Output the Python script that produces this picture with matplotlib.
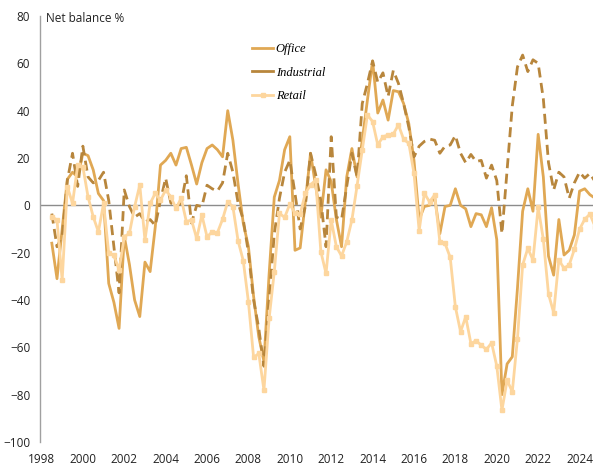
import numpy as np
import matplotlib
matplotlib.use("Agg")
import matplotlib.pyplot as plt

# quarterly net balances, 1998 Q3 onwards
start_year = 1998.5
office = [-16, -31, -10, 11, 14, 12, 22, 21, 15, 5,
          2, -33, -41, -52, -13, -25, -40, -47, -24, -28,
          -9, 17, 19, 22, 17, 24, 24.5, 17, 9, 18,
          24, 25.5, 23.5, 20.5, 40, 27.5, 9, -7.5, -17.5, -38.5,
          -55.5, -66, -29, 3.5, 10.5, 23.5, 29, -19, -18, 1.5,
          22, 8, -5, 15, 10, -6, -17.5, 12, 24, 12,
          27.5, 44.5, 61, 39, 44.5, 36, 48.5, 48, 43, 34.5,
          19, -6, -0.5, 0, 3.5, -12, -0.5, 0, 7, 0,
          -1.5, -9, -3.5, -4, -9, -1, -14.5, -80, -67, -64,
          -35, -2.5, 7, -2.5, 30, 12, -21.5, -29.5, -6, -21,
          -19, -12.5, 6, 7, 4.5, 3]
industrial = [-3.5, -17.5, -13, 10.5, 22, 8, 25, 12, 9.5, 10.5,
              14, 2, -17.5, -37, 6.5, -0.5, -5, -3.5, -7, -6,
              -8.5, 2, 11.5, 1, -0.5, 1, 12.5, -7.5, 0, -0.5,
              8.5, 7, 6, 9.5, 22, 14, 1, -6, -20, -40,
              -52, -68, -40, -12, 3, 14, 19, 5, -10, -0.5,
              22, 13, 2, -17.5, 29, -5, -6, 8, 22, 12,
              43, 51.5, 61, 52, 56, 46, 57, 51.5, 43, 33,
              20.5, 25, 27, 28, 27.5, 22, 25, 25.5, 29.5, 22,
              18, 21.5, 18.5, 19, 11.5, 17, 10.5, -12, 15, 42,
              58.5, 63.5, 56.5, 61.5, 60, 45, 18, 6.5, 14, 12,
              3, 9.5, 14, 11.5, 13.5, 10]
retail = [-4.8, -6.2, -31.6, 7.9, 0.8, 17, 16.3, 3.6, -4.8, -11.2,
          0.8, -20.3, -21, -27.4, -13.3, -11.8, -0.6, 8.6, -14.7, 0.8,
          5.1, 2.2, 6.5, 3.6, -1.3, 3.0, -6.9, -6.2, -14, -4.1,
          -13.3, -11.2, -11.6, -5.9, 1.5, -0.6, -15, -23.4, -40.8, -64.3,
          -62.6, -78.1, -47.8, -28, -3.4, -5.1, 0.5, -3.4, -3.7, 5.1,
          8.6, 10.7, -19.6, -28.8, -6.2, -17.5, -21.4, -15.4, -6.2, 8.3,
          23.4, 38.2, 35.4, 25.5, 29, 29.7, 30.1, 34, 27.9, 26.2,
          13.5, -10.7, 5.1, 1.5, 4.4, -15.4, -16.1, -22, -42.9, -53.4,
          -47.1, -58.4, -57.2, -59.1, -60.9, -58.1, -67.9, -86.6, -73.9, -78.8,
          -56.3, -25.2, -18.2, -23.1, -0.8, -14.4, -37.5, -45.4, -23.1, -26.6,
          -25.2, -18.6, -10.1, -5.9, -3.7, -9]

x_ticks = list(range(1998, 2025, 2))
y_ticks = list(range(-100, 81, 20))

t = start_year + 0.25 * np.arange(len(office))

plt.rcParams['font.family'] = ['Open Sans', 'DejaVu Sans']

fig = plt.figure(figsize=(5.93, 4.68), dpi=100)
ax = fig.add_axes([0.0675, 0.0556, 0.9325, 0.9102])

ax.axhline(0, color='#8c8c8c', lw=1.0, zorder=1)

ax.plot(t, office, color='#E0A854', lw=2.0, label='Office', zorder=3)
ax.plot(t, industrial, color='#B8863C', lw=2.0, dashes=(3.6, 2.0),
        label='Industrial', zorder=3)
ax.plot(t, retail, color='#FDD69E', lw=2.0, marker='s', ms=3.5,
        label='Retail', zorder=3)

ax.set_xlim(1997.93, 2024.65)
ax.set_ylim(-100, 80)
ax.set_xticks(x_ticks)
ax.set_yticks(y_ticks)
ax.tick_params(axis='both', length=0, labelsize=8.5, colors='#222222')
ax.tick_params(axis='y', pad=7)
ax.tick_params(axis='x', pad=8)

for s in ['top', 'right', 'bottom']:
    ax.spines[s].set_visible(False)
ax.spines['left'].set_color('#a0a0a0')
ax.spines['left'].set_linewidth(1.0)

fig.text(46 / 593, 1 - 19 / 468, 'Net balance %', fontsize=8.5,
         color='#222222', va='center', ha='left')

leg = fig.legend(loc='upper left', bbox_to_anchor=(252 / 593, 1 - 43 / 468),
                 frameon=False, borderpad=0, borderaxespad=0,
                 handlelength=1.7, handletextpad=0.2, labelspacing=0.92,
                 prop={'family': 'Liberation Serif', 'style': 'italic', 'size': 9})
# legend key for industrial is shown solid
leg.get_lines()[1].set_linestyle('-')

fig.savefig('out.png', dpi=100)
